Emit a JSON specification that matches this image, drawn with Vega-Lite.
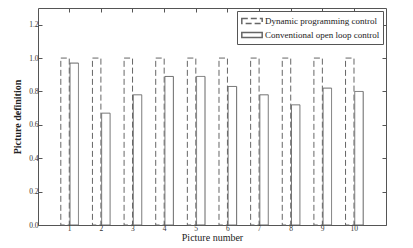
{
  "$schema": "https://vega.github.io/schema/vega-lite/v6.json",
  "width": 348,
  "height": 217,
  "autosize": "none",
  "padding": {"left": 38, "top": 8, "right": 27, "bottom": 23},
  "background": "white",
  "config": {
    "view": {"stroke": "#555", "strokeWidth": 1},
    "font": "Liberation Serif",
    "axis": {"grid": false, "domain": false, "tickColor": "#555", "tickSize": -4, "labelFont": "Liberation Serif", "labelFontSize": 7.5, "labelColor": "#333", "titleFont": "Liberation Serif", "titleColor": "#222"}
  },
  "data": {"values": [
    {"picture": 1, "series": "Dynamic programming control", "value": 1.0},
    {"picture": 2, "series": "Dynamic programming control", "value": 1.0},
    {"picture": 3, "series": "Dynamic programming control", "value": 1.0},
    {"picture": 4, "series": "Dynamic programming control", "value": 1.0},
    {"picture": 5, "series": "Dynamic programming control", "value": 1.0},
    {"picture": 6, "series": "Dynamic programming control", "value": 1.0},
    {"picture": 7, "series": "Dynamic programming control", "value": 1.0},
    {"picture": 8, "series": "Dynamic programming control", "value": 1.0},
    {"picture": 9, "series": "Dynamic programming control", "value": 1.0},
    {"picture": 10, "series": "Dynamic programming control", "value": 1.0},
    {"picture": 1, "series": "Conventional open loop control", "value": 0.97},
    {"picture": 2, "series": "Conventional open loop control", "value": 0.67},
    {"picture": 3, "series": "Conventional open loop control", "value": 0.78},
    {"picture": 4, "series": "Conventional open loop control", "value": 0.89},
    {"picture": 5, "series": "Conventional open loop control", "value": 0.89},
    {"picture": 6, "series": "Conventional open loop control", "value": 0.83},
    {"picture": 7, "series": "Conventional open loop control", "value": 0.78},
    {"picture": 8, "series": "Conventional open loop control", "value": 0.72},
    {"picture": 9, "series": "Conventional open loop control", "value": 0.82},
    {"picture": 10, "series": "Conventional open loop control", "value": 0.80}
  ]},
  "layer": [
    {
      "mark": {"type": "bar", "fill": "white", "stroke": "#666", "strokeWidth": 1},
      "encoding": {
        "x": {"field": "picture", "type": "ordinal", "sort": "ascending",
              "scale": {"paddingInner": 0, "paddingOuter": 0.5},
              "axis": {"orient": "bottom", "labelAngle": 0, "labelPadding": 3, "title": "Picture number", "titleFontSize": 10, "titleFontWeight": "normal", "titlePadding": 1}},
        "xOffset": {"field": "series", "type": "nominal",
              "sort": ["Dynamic programming control", "Conventional open loop control"],
              "scale": {"paddingInner": 0.08, "paddingOuter": 0.76}},
        "y": {"field": "value", "type": "quantitative",
              "scale": {"domain": [0, 1.3], "nice": false},
              "axis": {"orient": "left", "values": [0, 0.2, 0.4, 0.6, 0.8, 1, 1.2], "labelPadding": 4, "title": "Picture definition", "titleFontSize": 10, "titleFontWeight": "bold", "titlePadding": 6}},
        "strokeDash": {"field": "series", "type": "nominal",
              "scale": {"domain": ["Dynamic programming control", "Conventional open loop control"], "range": [[6, 3], [1, 0]]},
              "legend": {"title": null, "orient": "top-right", "offset": 3, "symbolType": "M-1.7,-0.42L1.7,-0.42L1.7,0.42L-1.7,0.42Z", "symbolSize": 144, "labelFont": "Liberation Serif", "labelFontSize": 9, "labelColor": "#222", "strokeColor": "#555", "fillColor": "white", "padding": 3, "rowPadding": 1, "labelOffset": 6, "symbolOffset": 5,
                "encode": {"symbols": {"update": {"stroke": {"value": "#555"}, "fill": {"value": "white"}, "strokeWidth": {"value": 1}, "opacity": {"value": 1}, "fillOpacity": {"value": 1}, "strokeOpacity": {"value": 1}}}}}}
      }
    },
    {
      "mark": {"type": "bar", "opacity": 0},
      "encoding": {
        "x": {"field": "picture", "type": "ordinal", "sort": "ascending",
              "axis": {"orient": "top", "labels": false, "title": null}},
        "xOffset": {"field": "series", "type": "nominal",
              "sort": ["Dynamic programming control", "Conventional open loop control"]},
        "y": {"field": "value", "type": "quantitative",
              "axis": {"orient": "right", "labels": false, "title": null, "values": [0, 0.2, 0.4, 0.6, 0.8, 1, 1.2]}}
      }
    }
  ],
  "resolve": {"axis": {"x": "independent", "y": "independent"}}
}
